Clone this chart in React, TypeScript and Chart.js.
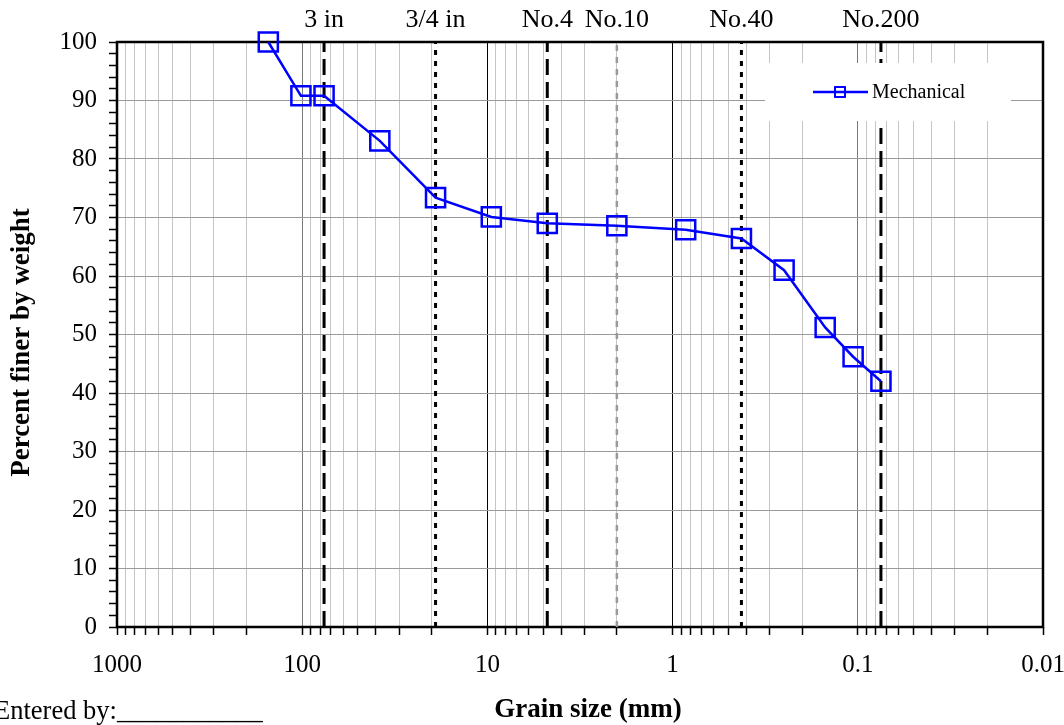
import React, { useEffect, useRef } from "react";
import { Chart, registerables } from "chart.js";

Chart.register(...registerables);

// Grain-size distribution (mm) and percent finer by weight
const grainSizes = [152.4, 101.6, 76.2, 38.1, 19.05, 9.525, 4.75, 2.0, 0.85, 0.425, 0.25, 0.15, 0.106, 0.075];
const percentFiner = [100, 90.8, 90.8, 83.1, 73.4, 70.1, 69.0, 68.6, 67.9, 66.4, 61.0, 51.2, 46.2, 42.0];

// Sieve reference lines
const sieveSizes = [76.2, 19.05, 4.75, 2.0, 0.425, 0.075];
const sieveLabels = ["3 in", "3/4 in", "No.4", "No.10", "No.40", "No.200"];

// Axis ticks and titles
const decadeValues = [1000, 100, 10, 1, 0.1, 0.01];
const decadeLabels = ["1000", "100", "10", "1", "0.1", "0.01"];
const minorMultipliers = [1, 2, 3, 4, 5, 6, 7, 8, 9];
const yMin = 0;
const yMax = 100;
const xTitle = "Grain size (mm)";
const yTitle = "Percent finer by weight";
const footerText = "Entered by:___________";

const SERIF = '"Liberation Serif", "Times New Roman", serif';

const isClose = (a: number, b: number) => Math.abs(a - b) / b < 1e-6;
const decadeIndex = (v: number) => decadeValues.findIndex((d) => isClose(v, d));

const xTickValues: number[] = (() => {
  const out: number[] = [];
  for (let i = 1; i < decadeValues.length; i++) {
    const base = decadeValues[i];
    for (const m of minorMultipliers) out.push(base * m);
  }
  out.push(decadeValues[0]);
  return out;
})();

const sieveStyles = [
  { color: "#000000", dash: [16, 7], width: 3 },
  { color: "#000000", dash: [5, 6], width: 3 },
  { color: "#000000", dash: [16, 7], width: 3 },
  { color: "#999999", dash: [6, 6], width: 2.5 },
  { color: "#000000", dash: [5, 6], width: 3 },
  { color: "#000000", dash: [16, 7], width: 3 },
];

const framePlugin = {
  id: "frame",
  beforeDatasetsDraw(chart: any) {
    const { ctx, chartArea: a } = chart;
    ctx.save();
    ctx.strokeStyle = "#000";
    ctx.lineWidth = 2.5;
    ctx.strokeRect(a.left, a.top, a.right - a.left, a.bottom - a.top);
    ctx.restore();
  },
};

const legendPlugin = {
  id: "legendBox",
  beforeDatasetDraw(chart: any, args: any) {
    if (args.index !== 0) return;
    const { ctx, chartArea: a } = chart;
    const ds = chart.data.datasets[0];
    ctx.save();
    ctx.fillStyle = "#ffffff";
    ctx.fillRect(a.left + 648, a.top + 21, 246, 58);
    const y = a.top + 50;
    ctx.strokeStyle = ds.borderColor;
    ctx.lineWidth = 2.5;
    ctx.beginPath();
    ctx.moveTo(a.left + 696, y);
    ctx.lineTo(a.left + 751, y);
    ctx.stroke();
    ctx.lineWidth = 2;
    ctx.strokeRect(a.left + 718, y - 5, 10, 10);
    ctx.fillStyle = "#000";
    ctx.font = `20px ${SERIF}`;
    ctx.textBaseline = "middle";
    ctx.textAlign = "left";
    ctx.fillText(ds.label, a.left + 755, y + 1);
    ctx.restore();
  },
};

const textPlugin = {
  id: "texts",
  afterDraw(chart: any) {
    const { ctx, chartArea: a } = chart;
    ctx.save();
    ctx.fillStyle = "#000";
    ctx.textBaseline = "middle";
    // footer
    ctx.font = `26.5px ${SERIF}`;
    ctx.textAlign = "left";
    ctx.fillText(footerText, -6, 712);
    // x title
    ctx.font = `bold 27px ${SERIF}`;
    ctx.textAlign = "center";
    ctx.fillText(xTitle, (a.left + a.right) / 2 + 8, 710);
    // y title
    ctx.translate(22, (a.top + a.bottom) / 2 + 8);
    ctx.rotate(-Math.PI / 2);
    ctx.fillText(yTitle, 0, 0);
    ctx.restore();
  },
};

export default function App() {
  const canvasRef = useRef<HTMLCanvasElement | null>(null);

  useEffect(() => {
    if (!canvasRef.current) return;
    const mech = {
      label: "Mechanical",
      data: grainSizes.map((x, i) => ({ x, y: percentFiner[i] })),
      borderColor: "#0000ff",
      backgroundColor: "#0000ff",
      borderWidth: 2.5,
      pointStyle: "rect",
      pointRadius: 13.5,
      pointHoverRadius: 13.5,
      pointBorderWidth: 2.5,
      pointBorderColor: "#0000ff",
      pointBackgroundColor: "rgba(0,0,0,0)",
      tension: 0,
      fill: false,
      clip: false,
      xAxisID: "x",
      yAxisID: "y",
    };
    const sieveSets = sieveSizes.map((s, i) => ({
      label: sieveLabels[i],
      data: [
        { x: s, y: yMin },
        { x: s, y: yMax },
      ],
      borderColor: sieveStyles[i].color,
      borderDash: sieveStyles[i].dash,
      borderWidth: sieveStyles[i].width,
      pointRadius: 0,
      fill: false,
      xAxisID: "x",
      yAxisID: "y",
    }));

    const chart = new Chart(canvasRef.current, {
      type: "line",
      data: { datasets: [mech as any, ...(sieveSets as any)] },
      options: {
        responsive: false,
        animation: false,
        devicePixelRatio: 1,
        layout: { padding: { left: 0, right: 21, top: 0, bottom: 0 } },
        plugins: {
          legend: { display: false },
          tooltip: { enabled: false },
        },
        scales: {
          x: {
            type: "logarithmic",
            position: "bottom",
            reverse: true,
            min: 0.01,
            max: 1000,
            afterBuildTicks: (scale: any) => {
              scale.ticks = xTickValues.map((v) => ({ value: v }));
            },
            afterFit: (scale: any) => {
              scale.height = 98;
            },
            border: { display: false },
            grid: {
              drawOnChartArea: true,
              drawTicks: true,
              tickLength: 8,
              tickColor: "#000",
              tickWidth: 1.5,
              lineWidth: 1,
              color: (ctx: any) => {
                const v = ctx.tick ? ctx.tick.value : 0;
                const di = decadeIndex(v);
                if (di === 2 || di === 3) return "#000000";
                if (di === 1 || di === 4) return "#7a7a7a";
                return "#c4c4c4";
              },
            },
            ticks: {
              autoSkip: false,
              maxRotation: 0,
              minRotation: 0,
              padding: 15,
              color: "#000",
              font: { family: SERIF, size: 25 },
              callback: (value: any) => {
                const di = decadeIndex(Number(value));
                return di >= 0 ? decadeLabels[di] : "";
              },
            },
            title: { display: false },
          },
          x2: {
            type: "logarithmic",
            position: "top",
            reverse: true,
            min: 0.01,
            max: 1000,
            afterBuildTicks: (scale: any) => {
              scale.ticks = sieveSizes.map((v) => ({ value: v }));
            },
            afterFit: (scale: any) => {
              scale.height = 42;
            },
            border: { display: false },
            grid: { display: false, drawTicks: false },
            ticks: {
              autoSkip: false,
              maxRotation: 0,
              minRotation: 0,
              padding: 6,
              color: "#000",
              font: { family: SERIF, size: 26 },
              callback: (_v: any, index: number) => sieveLabels[index],
            },
          },
          y: {
            type: "linear",
            position: "left",
            min: yMin,
            max: yMax,
            afterFit: (scale: any) => {
              scale.width = 117;
            },
            border: { display: false },
            grid: {
              drawOnChartArea: true,
              drawTicks: true,
              tickLength: 8,
              tickColor: "#000",
              tickWidth: 1.5,
              lineWidth: 1,
              color: (ctx: any) => {
                const v = ctx.tick ? ctx.tick.value : 0;
                return v % 10 === 0 ? "#9a9a9a" : "rgba(0,0,0,0)";
              },
            },
            ticks: {
              stepSize: 2,
              autoSkip: false,
              padding: 12,
              color: "#000",
              font: { family: SERIF, size: 25 },
              callback: (value: any) => (Number(value) % 10 === 0 ? String(value) : ""),
            },
            title: { display: false },
          },
        },
      } as any,
      plugins: [framePlugin, legendPlugin, textPlugin],
    });
    return () => chart.destroy();
  }, []);

  return (
    <div style={{ position: "fixed", left: 0, top: 0, width: 1064, height: 725, background: "#fff" }}>
      <canvas ref={canvasRef} width={1064} height={725} style={{ display: "block" }} />
    </div>
  );
}
